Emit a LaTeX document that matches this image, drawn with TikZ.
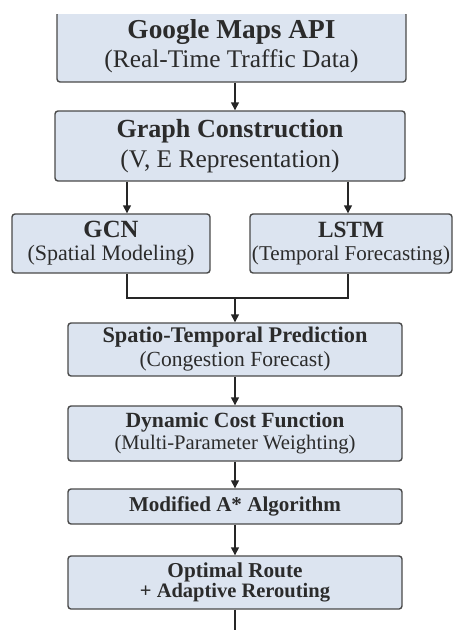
\documentclass[tikz,border=0pt]{standalone}
\usepackage{fontspec}
\setmainfont{Liberation Serif}
\usetikzlibrary{arrows.meta}
\definecolor{boxfill}{HTML}{DCE4F0}
\definecolor{boxline}{HTML}{4A4A4A}
\definecolor{txtc}{HTML}{2B2B2B}
\newcommand{\fw}[2]{\resizebox{#1pt}{!}{#2}}
\newcommand{\tl}[2]{\resizebox{#1pt}{!}{\bfseries #2}}
\begin{document}
\begin{tikzpicture}[x=1pt,y=-1pt,
  box/.style={draw=boxline, line width=1.4pt, fill=boxfill, rounded corners=3pt,
    align=center, text=txtc, inner sep=0pt},
  arr/.style={draw=black!85, line width=1.4pt, -{Triangle[length=8pt,width=8pt]}},
  ln/.style={draw=black!85, line width=1.4pt}]
\useasboundingbox (0,0) rectangle (453,630);
\coordinate (colx) at (235,0);
\coordinate (lx) at (127,0);
\coordinate (rx) at (348,0);
\coordinate (join) at (235,298);
\coordinate (out) at (235,630);

\begin{scope}
\clip (0,14) rectangle (453,630);
\node[box, minimum width=349pt, minimum height=71pt,
  font=\fontsize{20}{29}\selectfont] (g) at (231.5,46.5)
  {\tl{208}{Google Maps API}\\\fw{254}{(Real-Time Traffic Data)}};
\end{scope}

\node[box, minimum width=350pt, minimum height=70pt,
  font=\fontsize{20}{30}\selectfont] (gc) at (230,146)
  {\tl{227}{Graph Construction}\\\fw{219}{(V, E Representation)}};

\node[box, minimum width=198pt, minimum height=59pt,
  font=\fontsize{16}{23}\selectfont] (gcn) at (111,243.5)
  {\tl{55}{GCN}\\\fw{167}{(Spatial Modeling)}};

\node[box, minimum width=202pt, minimum height=59pt,
  font=\fontsize{16}{23}\selectfont] (lstm) at (351,243.5)
  {\tl{66}{LSTM}\\\fw{198}{(Temporal Forecasting)}};

\node[box, minimum width=334pt, minimum height=53pt,
  font=\fontsize{16}{24}\selectfont] (st) at (235,349.5)
  {\tl{265}{Spatio-Temporal Prediction}\\\fw{191}{(Congestion Forecast)}};

\node[box, minimum width=334pt, minimum height=55pt,
  font=\fontsize{16}{22}\selectfont] (dcf) at (235,433.5)
  {\tl{219}{Dynamic Cost Function}\\\fw{241}{(Multi-Parameter Weighting)}};

\node[box, minimum width=334pt, minimum height=35pt,
  font=\fontsize{16}{20}\selectfont] (astar) at (235,506.5)
  {\tl{212}{Modified A* Algorithm}};

\node[box, minimum width=334pt, minimum height=53pt,
  font=\fontsize{16}{20}\selectfont] (opt) at (235,582.5)
  {\tl{135}{Optimal Route}\\\tl{190}{+ Adaptive Rerouting}};

\draw[arr] (g.south -| colx) -- (gc.north -| colx);
\draw[arr] (gc.south -| lx) -- (gcn.north -| lx);
\draw[arr] (gc.south -| rx) -- (lstm.north -| rx);
\draw[ln] (gcn.south -| lx) -- (lx |- join) -- (rx |- join) -- (lstm.south -| rx);
\draw[arr] (join) -- (st.north -| colx);
\draw[arr] (st.south -| colx) -- (dcf.north -| colx);
\draw[arr] (dcf.south -| colx) -- (astar.north -| colx);
\draw[arr] (astar.south -| colx) -- (opt.north -| colx);
\draw[ln] (opt.south -| colx) -- (out);
\end{tikzpicture}
\end{document}
